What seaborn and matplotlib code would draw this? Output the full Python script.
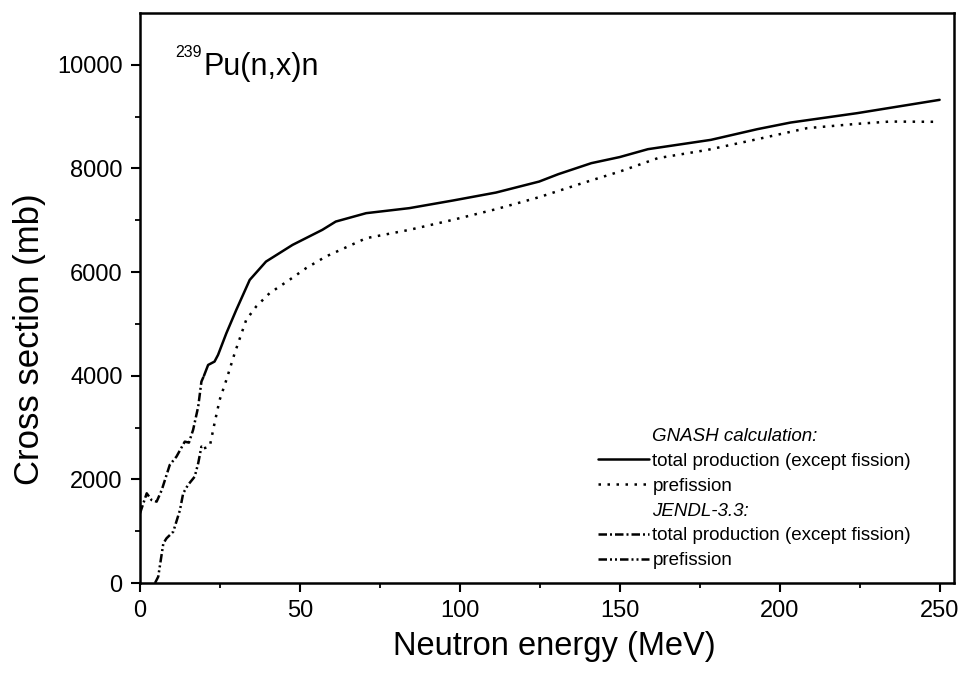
import numpy as np
import pandas as pd
import matplotlib
matplotlib.use("Agg")
import matplotlib.pyplot as plt
from matplotlib.lines import Line2D
import seaborn as sns

# ---- data ----
jendl_tot_E = [0, 2.1, 3.6, 5.2, 6.8, 9.3, 11.4, 14.0, 15.3, 16.6, 18.2, 19.2, 20.0]
jendl_tot_xs = [1345, 1731, 1602, 1570, 1795, 2278, 2439, 2728, 2709, 2954, 3404, 3886, 4000]

jendl_pre_E = [4.7, 5.7, 7.3, 8.3, 10.4, 12.5, 13.5, 15.0, 17.1, 18.2, 19.2, 20.0]
jendl_pre_xs = [0, 122, 766, 863, 990, 1409, 1731, 1892, 2052, 2311, 2632, 2600]

gnash_tot_E = [20, 21.3, 23.3, 24.4, 27.0, 30.1, 34.3, 39.4, 47.7, 57.0, 61.2, 70.7,
               84.2, 97.8, 111.3, 124.8, 130.8, 141.1, 150, 158.8, 178.5, 193.0,
               203.4, 224.2, 250]
gnash_tot_xs = [4000, 4208, 4273, 4402, 4820, 5270, 5849, 6203, 6525, 6815, 6975, 7137,
                7234, 7381, 7535, 7747, 7890, 8102, 8220, 8372, 8552, 8758,
                8886, 9067, 9324]

gnash_pre_E = [20, 21.8, 23.3, 24.9, 27.0, 29.6, 33.2, 36.3, 40.5, 46.7, 51.9, 58.1,
               70.7, 84.2, 97.8, 111.3, 124.8, 138.3, 150, 161.9, 177.5, 193.0,
               208.6, 224.2, 234.5, 250]
gnash_pre_xs = [2600, 2632, 3082, 3533, 3919, 4434, 5077, 5334, 5592, 5849, 6075, 6300,
                6654, 6815, 7008, 7214, 7446, 7716, 7940, 8199, 8359, 8565,
                8778, 8861, 8905, 8900]

x_ticks = [0, 50, 100, 150, 200, 250]
y_ticks = [0, 2000, 4000, 6000, 8000, 10000]

legend_labels = ["GNASH calculation:", "total production (except fission)", "prefission",
                 "JENDL-3.3:", "total production (except fission)", "prefission"]

# ---- styling ----
sns.set_theme(style="ticks")
plt.rcParams["font.family"] = ["Liberation Sans", "DejaVu Sans"]
plt.rcParams["axes.linewidth"] = 1.8
plt.rcParams["text.color"] = "black"
plt.rcParams["axes.labelcolor"] = "black"

LW = 1.8
styles = {
    "gnash_tot": "-",
    "gnash_pre": (0, (1, 2.6)),
    "jendl_tot": (0, (3.4, 1.2, 0.8, 1.2)),
    "jendl_pre": (0, (3.4, 1.2, 0.8, 1.2, 0.8, 1.2)),
}

fig = plt.figure(figsize=(9.6, 6.76), dpi=100)
ax = fig.add_axes([140 / 960, 1 - 583 / 676, (954 - 140) / 960, (583 - 13) / 676])

series = [
    ("gnash_tot", gnash_tot_E, gnash_tot_xs),
    ("gnash_pre", gnash_pre_E, gnash_pre_xs),
    ("jendl_tot", jendl_tot_E, jendl_tot_xs),
    ("jendl_pre", jendl_pre_E, jendl_pre_xs),
]
for key, E, xs in series:
    df = pd.DataFrame({"E": E, "xs": xs})
    sns.lineplot(data=df, x="E", y="xs", ax=ax, color="black", linewidth=LW,
                 linestyle=styles[key], sort=False, estimator=None)

ax.set_xlim(0, 254.5)
ax.set_ylim(0, 11000)
ax.set_xticks(x_ticks)
ax.set_xticklabels([str(t) for t in x_ticks])
ax.set_yticks(y_ticks)
ax.set_yticklabels([str(t) for t in y_ticks])
ax.set_xticks(np.arange(25, 251, 50), minor=True)
ax.set_yticks(np.arange(1000, 10001, 2000), minor=True)
ax.tick_params(which="major", direction="out", length=6.5, width=1.5,
               labelsize=17, colors="black", pad=6)
ax.tick_params(which="minor", direction="out", length=3.5, width=1.3, colors="black")

ax.set_xlabel("Neutron energy (MeV)", fontsize=23.5, color="black", labelpad=6)
ax.set_ylabel("Cross section (mb)", fontsize=25, color="black")
ax.xaxis.label.set_x((554 - 140) / 814)
ax.yaxis.set_label_coords((46 - 140) / 814, (583 - 339) / 570)

for s in ax.spines.values():
    s.set_visible(True)
    s.set_color("black")
    s.set_linewidth(1.8)

# title annotation
ax.text(10.9, 10150, "239", fontsize=11.5, color="black", va="baseline", ha="left")
ax.text(20.0, 9800, "Pu(n,x)n", fontsize=22, color="black", va="baseline", ha="left")

# legend
handles = [
    Line2D([], [], linestyle="none"),
    Line2D([], [], color="black", lw=LW, linestyle=styles["gnash_tot"]),
    Line2D([], [], color="black", lw=LW, linestyle=styles["gnash_pre"]),
    Line2D([], [], linestyle="none"),
    Line2D([], [], color="black", lw=LW, linestyle=styles["jendl_tot"]),
    Line2D([], [], color="black", lw=LW, linestyle=styles["jendl_pre"]),
]
leg = ax.legend(handles, legend_labels, loc="upper left",
                bbox_to_anchor=((598 - 140) / 814, (583 - 428) / 570),
                frameon=False, fontsize=13.5, handlelength=2.7, handletextpad=0.2,
                borderpad=0, borderaxespad=0, labelspacing=0.41)
for t in leg.get_texts():
    t.set_color("black")
for i in (0, 3):
    leg.get_texts()[i].set_style("italic")

fig.savefig("out.png", dpi=100, facecolor="white")
